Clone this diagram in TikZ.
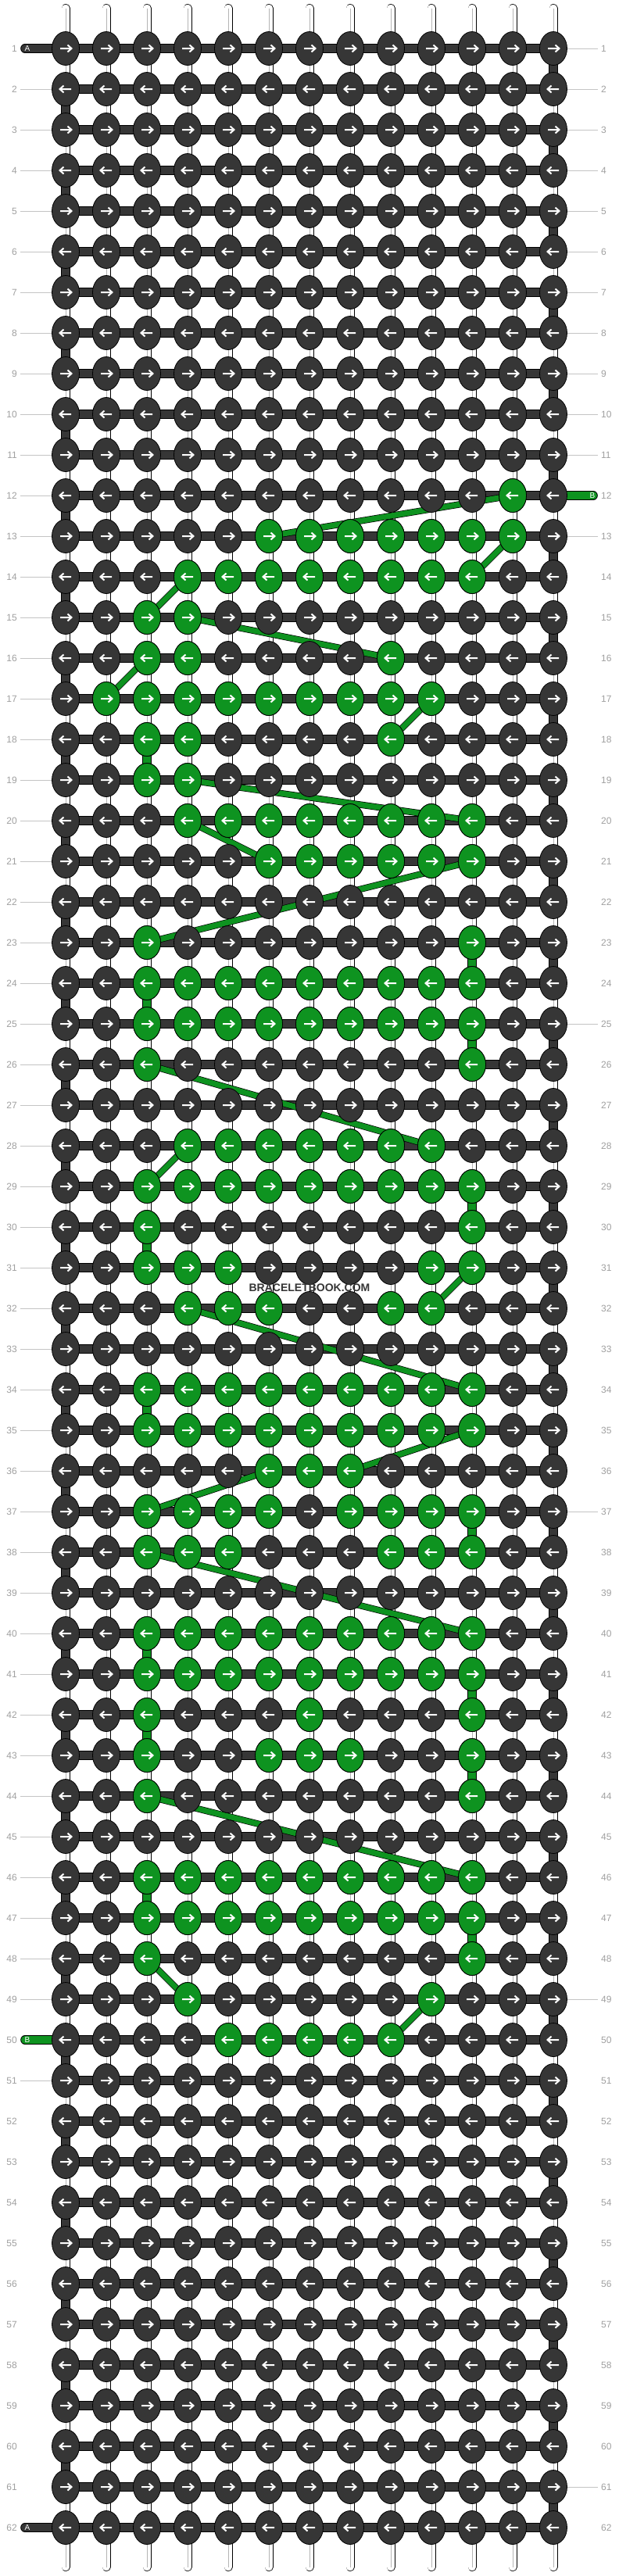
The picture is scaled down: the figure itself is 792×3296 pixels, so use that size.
\documentclass[tikz,border=0pt]{standalone}
\usepackage{fontspec}
\setmainfont{Liberation Sans}
\usetikzlibrary{shapes.geometric}

\definecolor{knotdark}{HTML}{363636}
\definecolor{knotgreen}{HTML}{0E9320}
\definecolor{labelgray}{HTML}{A0A0A0}
\definecolor{guidegray}{HTML}{C4C4C4}
\definecolor{stringgray}{HTML}{B4B4B4}

\begin{document}
\begin{tikzpicture}[
        x=1pt, y=-1pt,
        % define styles
        knotbase/.style={
            ellipse, draw=black, line width=0.8pt,
            minimum width=35pt, minimum height=43pt, inner sep=0pt
        },
        darkknot/.style={knotbase, fill=knotdark},
        greenknot/.style={knotbase, fill=knotgreen},
        basestring/.style={
            draw=black, line width=0.7pt, double=white,
            double distance=9.6pt, line cap=round
        },
        centreline/.style={draw=stringgray, line width=0.5pt},
        band/.style={
            draw=black, line width=0.8pt,
            double=knotdark, double distance=10pt
        },
        greenband/.style={band, double=knotgreen},
        carry/.style={
            draw=black, line width=0.7pt,
            double=knotgreen, double distance=7pt
        },
        tailtext/.style={text=white, font=\fontsize{10}{10}\selectfont, inner sep=0pt},
        rowlabel/.style={text=labelgray, font=\fontsize{12}{12}\selectfont, inner sep=0pt},
        guide/.style={draw=guidegray, line width=0.8pt},
        watermark/.style={text=knotdark, font=\bfseries\fontsize{14}{14}\selectfont},
        rarrow/.pic={\draw[white, line width=2pt] (-7,0) -- (7.5,0) (2.5,-4.5) -- (7.5,0) -- (2.5,4.5);},
        larrow/.pic={\draw[white, line width=2pt] (7,0) -- (-7.5,0) (-2.5,-4.5) -- (-7.5,0) -- (-2.5,4.5);}
    ]
    \fill[white] (0,0) rectangle (792,3296);
    \useasboundingbox (0,0) rectangle (792,3296);

    % knot positions, 13 columns by 62 rows
    \foreach \r in {1,...,62}
    \foreach \c in {1,...,13}
        \coordinate (p-\r-\c) at (32+52*\c, 10+52*\r);

    % vertical base strings
    \foreach \c in {1,...,13} {
        \coordinate (s-top-\c) at (32+52*\c, 10.5);
        \coordinate (s-bot-\c) at (32+52*\c, 3284.5);
        \draw[basestring] (s-top-\c) -- (s-bot-\c);
        \draw[centreline] (s-top-\c) -- (s-bot-\c);
    }

    % string A turning at the edges
    \foreach \r in {1,3,...,61} {
        \pgfmathtruncatemacro{\s}{\r+1}
        \draw[band] (p-\r-13) -- (p-\s-13);
    }
    \foreach \r in {2,4,...,60} {
        \pgfmathtruncatemacro{\s}{\r+1}
        \draw[band] (p-\r-1) -- (p-\s-1);
    }

    % string B turning in one column
    \foreach \r/\c in {18/3,23/11,24/3,25/11,29/11,30/3,34/3,37/11,
                       40/3,41/11,42/3,43/11,46/3,47/11} {
        \pgfmathtruncatemacro{\s}{\r+1}
        \draw[greenband] (p-\r-\c) -- (p-\s-\c);
    }

    % tails of A and B
    \coordinate (a-in) at (32, 62);
    \coordinate (a-out) at (32, 3234);
    \coordinate (b-in) at (759, 634);
    \coordinate (b-out) at (32, 2610);
    \draw[band, line cap=round] (a-in) -- (p-1-1);
    \draw[band, line cap=round] (a-out) -- (p-62-1);
    \draw[greenband, line cap=round] (b-in) -- (p-12-13);
    \draw[greenband, line cap=round] (b-out) -- (p-50-1);

    % rows
    \foreach \r in {1,...,62}
        \draw[band] (p-\r-1) -- (p-\r-13);

    % string B carried behind the knots
    \foreach \a/\b/\c/\d in {12/12/13/6, 13/12/14/11, 14/4/15/3, 15/4/16/9,
                             16/3/17/2, 17/10/18/9, 19/4/20/11, 20/4/21/6,
                             21/11/23/3, 26/3/28/10, 28/4/29/3, 31/11/32/10,
                             32/4/34/11, 35/11/36/8, 36/6/37/3, 38/3/40/11,
                             44/3/46/11, 48/3/49/4, 49/10/50/9}
        \draw[carry] (p-\a-\b) -- (p-\c-\d);

    % knots
    \foreach \r in {1,...,62}
    \foreach \c in {1,...,13}
        \node[darkknot] (k-\r-\c) at (p-\r-\c) {};

    \foreach \r/\cols in {
        12/{12}, 13/{6,...,12}, 14/{4,...,11}, 15/{3,4}, 16/{3,4,9},
        17/{2,...,10}, 18/{3,4,9}, 19/{3,4}, 20/{4,...,11}, 21/{6,...,11},
        23/{3,11}, 24/{3,...,11}, 25/{3,...,11}, 26/{3,11}, 28/{4,...,10},
        29/{3,...,11}, 30/{3,11}, 31/{3,4,5,10,11}, 32/{4,5,6,9,10},
        34/{3,...,11}, 35/{3,...,11}, 36/{6,7,8}, 37/{3,4,5,6,8,9,10,11},
        38/{3,4,5,9,10,11}, 40/{3,...,11}, 41/{3,...,11}, 42/{3,7,11},
        43/{3,6,7,8,11}, 44/{3,11}, 46/{3,...,11}, 47/{3,...,11},
        48/{3,11}, 49/{4,10}, 50/{5,...,9}}
    \foreach \c in \cols
        \node[greenknot] (k-\r-\c) at (p-\r-\c) {};

    % knot directions
    \foreach \r in {1,3,...,61}
    \foreach \c in {1,...,13}
        \pic at (k-\r-\c) {rarrow};
    \foreach \r in {2,4,...,62}
    \foreach \c in {1,...,13}
        \pic at (k-\r-\c) {larrow};

    % tail letters
    \node[tailtext] (a-in-text) at ([xshift=3pt]a-in) {A};
    \node[tailtext] (a-out-text) at ([xshift=3pt]a-out) {A};
    \node[tailtext] (b-in-text) at ([xshift=-1pt]b-in) {B};
    \node[tailtext] (b-out-text) at ([xshift=3pt]b-out) {B};

    % row numbers on both sides
    \foreach \r in {1,...,62} {
        \node[rowlabel, anchor=east] (ll-\r) at (22, 10+52*\r) {\r};
        \node[rowlabel, anchor=west] (rl-\r) at (769, 10+52*\r) {\r};
    }
    \foreach \r in {2,...,49,51,...,61}
        \draw[guide, shorten <=4pt] (ll-\r) -- (k-\r-1);
    \foreach \r in {1,...,11,13,...,62}
        \draw[guide, shorten >=4pt] (k-\r-13) -- (rl-\r);

    \node[watermark] (mark) at (396, 1648) {BRACELETBOOK.COM};
\end{tikzpicture}
\end{document}
